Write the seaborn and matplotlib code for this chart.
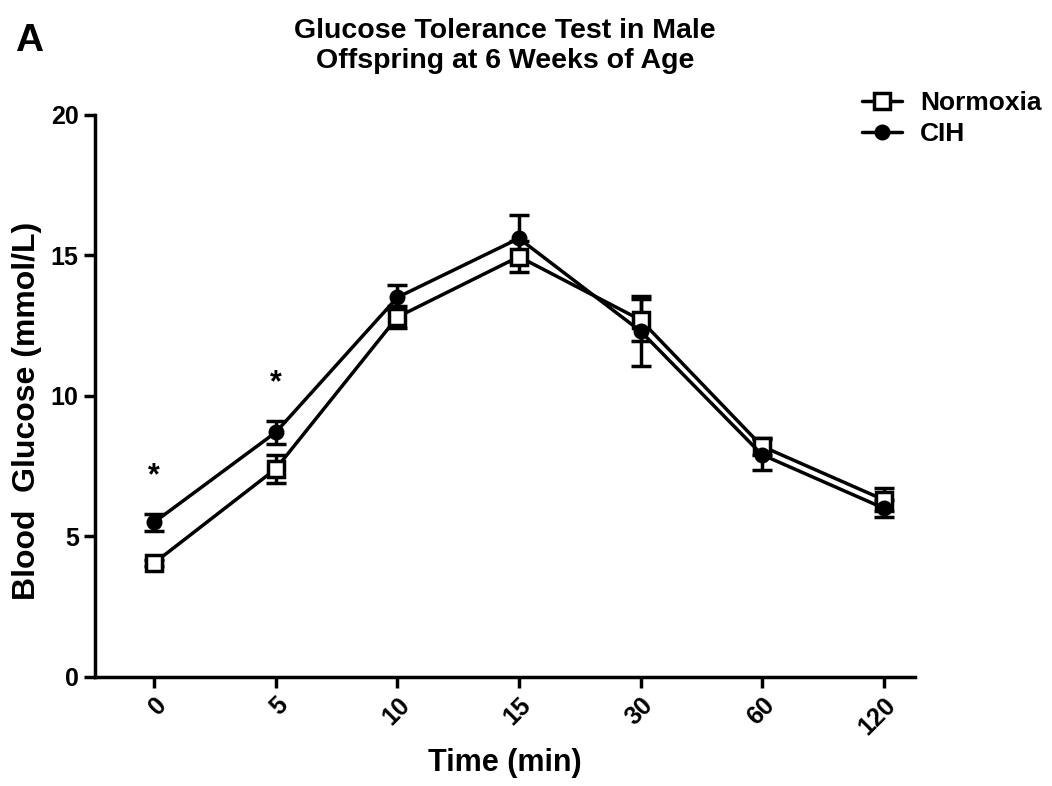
import numpy as np
import pandas as pd
import matplotlib
matplotlib.use("Agg")
import matplotlib.pyplot as plt
import seaborn as sns

# data
times = ["0", "5", "10", "15", "30", "60", "120"]
normoxia = [4.05, 7.4, 12.8, 14.95, 12.7, 8.2, 6.3]
normoxia_sem = [0.1, 0.5, 0.4, 0.55, 0.75, 0.3, 0.4]
cih = [5.5, 8.7, 13.5, 15.6, 12.3, 7.9, 6.0]
cih_sem = [0.3, 0.4, 0.45, 0.85, 1.25, 0.55, 0.3]
signif = ["0", "5"]

sns.set_style("ticks")
plt.rcParams['font.family'] = ['Liberation Sans', 'DejaVu Sans']
plt.rcParams['font.weight'] = 'bold'
for k in ['text.color', 'axes.labelcolor', 'xtick.color', 'ytick.color', 'axes.edgecolor']:
    plt.rcParams[k] = 'black'

pos = np.arange(len(times))
df = pd.DataFrame({
    "pos": np.concatenate([pos, pos]),
    "glucose": normoxia + cih,
    "sem": normoxia_sem + cih_sem,
    "group": ["Normoxia"] * len(times) + ["CIH"] * len(times),
})

fig = plt.figure(figsize=(10.52, 7.86), dpi=100)
ax = fig.add_axes([0.090, 0.139, 0.78, 0.715])

styles = {"Normoxia": dict(marker="s", mfc="white", ms=11, mew=2.5),
          "CIH": dict(marker="o", mfc="black", ms=10, mew=1.5)}
for grp in ["Normoxia", "CIH"]:
    d = df[df.group == grp]
    ax.errorbar(d["pos"], d["glucose"], yerr=d["sem"], fmt="none",
                ecolor="black", elinewidth=2.5, capsize=7, capthick=2.5, zorder=2)
    sns.lineplot(data=d, x="pos", y="glucose", ax=ax, color="black", lw=2.5,
                 mec="black", label=grp, zorder=3, **styles[grp])

# significance stars
for t in signif:
    i = times.index(t)
    top = max(cih[i] + cih_sem[i], normoxia[i] + normoxia_sem[i])
    ax.text(i, top + 0.8, "*", ha="center", va="bottom", fontsize=22, fontweight="bold")

ax.set_xlim(-0.49, len(times) - 1 + 0.26)
ax.set_ylim(0, 20)
ax.set_yticks([0, 5, 10, 15, 20])
ax.set_xticks(pos)
ax.set_xticklabels(times, rotation=45, ha="right", rotation_mode="anchor")
ax.tick_params(axis="both", labelsize=18, width=2.5, length=8)
for lab in ax.get_xticklabels() + ax.get_yticklabels():
    lab.set_fontweight("bold")
for s in ["left", "bottom"]:
    ax.spines[s].set_linewidth(2.5)
sns.despine(ax=ax)

ax.set_xlabel("Time (min)", fontsize=22, fontweight="bold", labelpad=6)
ax.set_ylabel("Blood  Glucose (mmol/L)", fontsize=23, fontweight="bold")
ax.yaxis.set_label_coords(-0.064, 0.473)
ax.set_title("Glucose Tolerance Test in Male\nOffspring at 6 Weeks of Age",
             fontsize=20.5, fontweight="bold", pad=34)

leg = fig.legend(loc="upper left", bbox_to_anchor=(0.797, 0.914), frameon=False,
                 fontsize=19, handlelength=1.5, handletextpad=0.7, labelspacing=0.25)
if ax.get_legend():
    ax.get_legend().remove()
for t in leg.get_texts():
    t.set_fontweight("bold")

fig.text(0.014, 0.935, "A", fontsize=28, fontweight="bold")

fig.savefig("out.png", dpi=100)
